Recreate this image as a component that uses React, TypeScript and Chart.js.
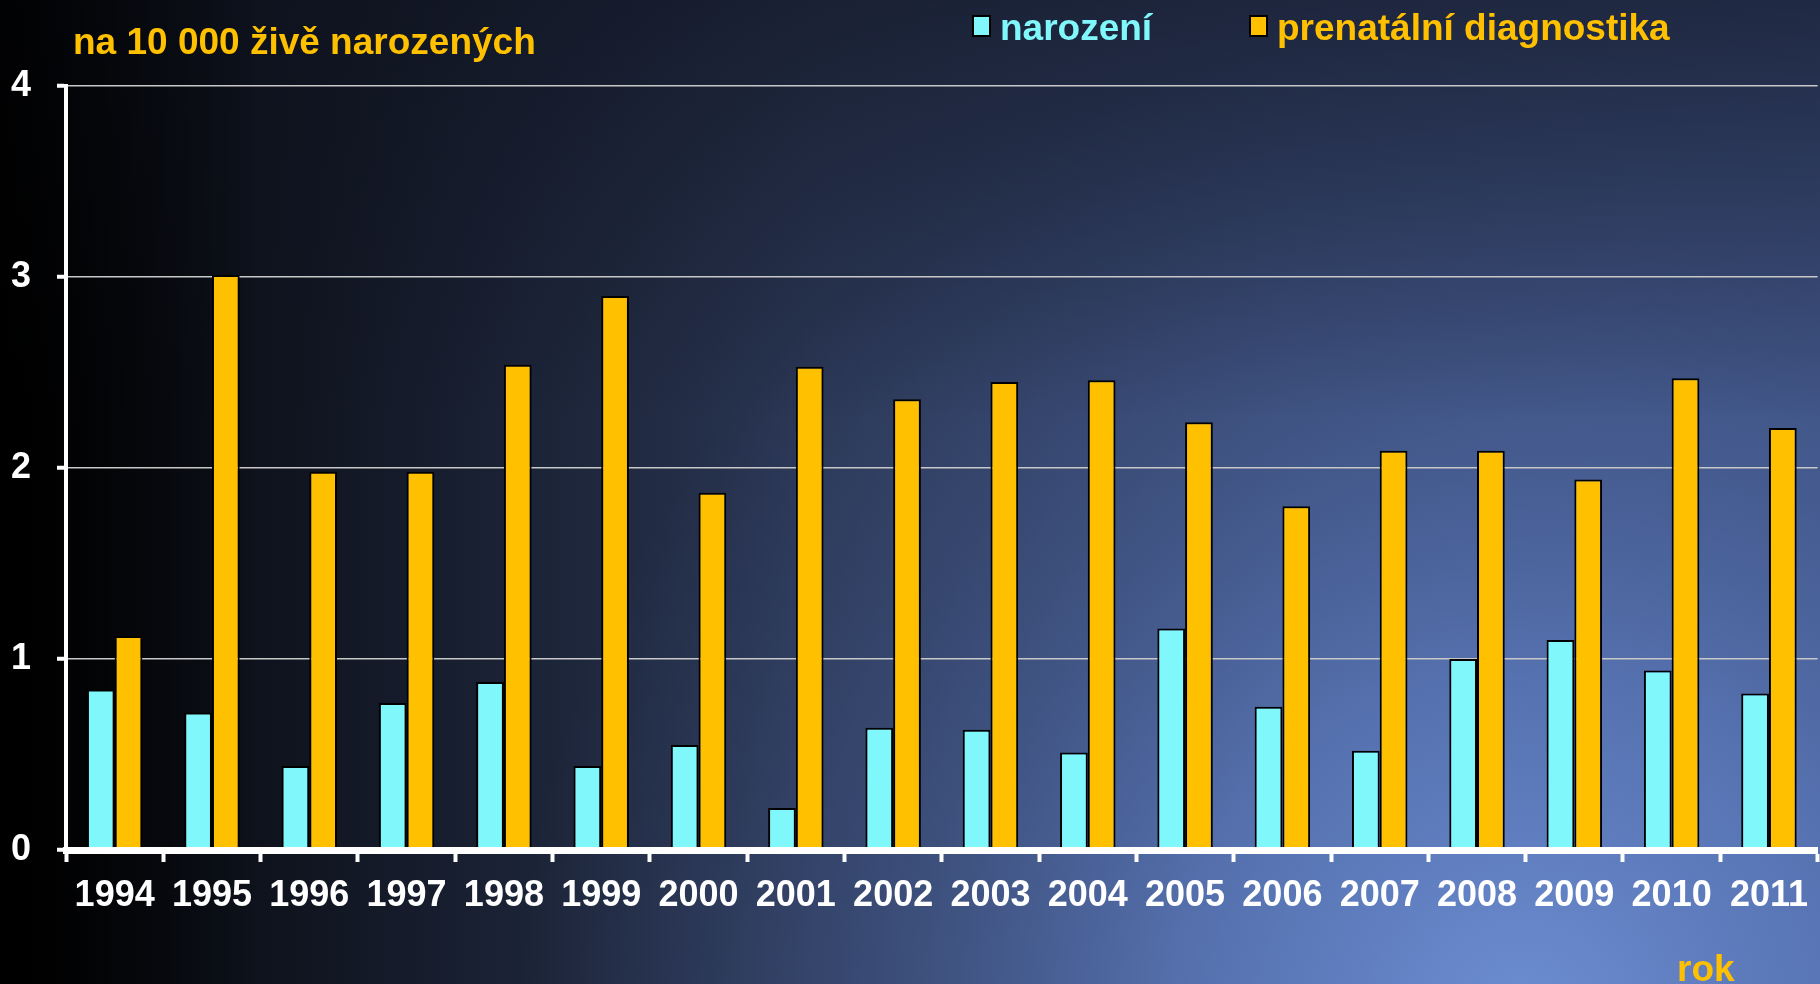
import { useEffect, useRef } from "react";
import { Chart, registerables } from "chart.js";

Chart.register(...registerables);

const years = ["1994", "1995", "1996", "1997", "1998", "1999", "2000", "2001", "2002", "2003", "2004", "2005", "2006", "2007", "2008", "2009", "2010", "2011"];
const narozeni = [0.84, 0.72, 0.44, 0.77, 0.88, 0.44, 0.55, 0.22, 0.64, 0.63, 0.51, 1.16, 0.75, 0.52, 1.0, 1.10, 0.94, 0.82];
const prenatalni = [1.12, 3.01, 1.98, 1.98, 2.54, 2.90, 1.87, 2.53, 2.36, 2.45, 2.46, 2.24, 1.80, 2.09, 2.09, 1.94, 2.47, 2.21];
const seriesLabels = ["narození", "prenatální diagnostika"];
const seriesColors = ["#80F7FB", "#FFC000"];
const yMin = 0;
const yMax = 4;
const yStep = 1;
const titleText = "na 10 000 živě narozených";
const xTitleText = "rok";

const FONT = '"Liberation Sans", Arial, sans-serif';

const decorPlugin = {
  id: "decor",
  beforeDraw(chart: any) {
    const ctx = chart.ctx as CanvasRenderingContext2D;
    const w = chart.width;
    const h = chart.height;
    ctx.save();
    const base = ctx.createLinearGradient(0, 0, w, 0);
    base.addColorStop(0, "#000000");
    base.addColorStop(0.06, "#07090e");
    base.addColorStop(0.22, "#151b2a");
    base.addColorStop(0.45, "#2a3654");
    base.addColorStop(0.7, "#34446c");
    base.addColorStop(1, "#3a4c7a");
    ctx.fillStyle = base;
    ctx.fillRect(0, 0, w, h);
    const rad = ctx.createRadialGradient(1520, 1020, 0, 1520, 1020, 1000);
    rad.addColorStop(0, "rgba(112,146,216,0.95)");
    rad.addColorStop(0.35, "rgba(98,130,200,0.7)");
    rad.addColorStop(0.7, "rgba(80,106,165,0.3)");
    rad.addColorStop(1, "rgba(70,90,140,0)");
    ctx.fillStyle = rad;
    ctx.fillRect(0, 0, w, h);
    const top = ctx.createLinearGradient(0, 0, 0, 420);
    top.addColorStop(0, "rgba(14,18,30,0.6)");
    top.addColorStop(1, "rgba(14,18,30,0)");
    ctx.fillStyle = top;
    ctx.fillRect(0, 0, w, h);
    const left = ctx.createLinearGradient(0, 0, 260, 0);
    left.addColorStop(0, "rgba(0,0,0,0.85)");
    left.addColorStop(1, "rgba(0,0,0,0)");
    ctx.fillStyle = left;
    ctx.fillRect(0, 0, w, h);
    ctx.restore();
  },
  afterDraw(chart: any) {
    const ctx = chart.ctx as CanvasRenderingContext2D;
    ctx.save();
    ctx.font = `bold 37px ${FONT}`;
    ctx.textBaseline = "alphabetic";
    ctx.textAlign = "left";
    ctx.fillStyle = "#FFC000";
    ctx.fillText(titleText, 73, 54);
    ctx.fillText(xTitleText, 1677, 981);
    const items = [
      { x: 973, text: chart.data.datasets[0].label, color: chart.data.datasets[0].backgroundColor },
      { x: 1250, text: chart.data.datasets[1].label, color: chart.data.datasets[1].backgroundColor },
    ];
    items.forEach((it) => {
      ctx.fillStyle = "#000";
      ctx.fillRect(it.x - 1, 15, 19, 22);
      ctx.fillStyle = it.color;
      ctx.fillRect(it.x + 1, 17, 15, 18);
      ctx.fillStyle = it.color;
      ctx.fillText(it.text, it.x + 27, 40);
    });
    ctx.restore();
  },
};

export default function App() {
  const ref = useRef<HTMLCanvasElement | null>(null);
  useEffect(() => {
    document.body.style.margin = "0";
    document.body.style.overflow = "hidden";
    const canvas = ref.current;
    if (!canvas) return;
    const tickFont = { family: FONT, size: 36, weight: "bold" as const };
    const chart = new Chart(canvas, {
      type: "bar",
      data: {
        labels: years,
        datasets: [
          {
            label: seriesLabels[0],
            data: narozeni,
            backgroundColor: seriesColors[0],
            borderColor: "#000",
            borderWidth: 2,
            categoryPercentage: 0.57,
            barPercentage: 1,
          },
          {
            label: seriesLabels[1],
            data: prenatalni,
            backgroundColor: seriesColors[1],
            borderColor: "#000",
            borderWidth: 2,
            categoryPercentage: 0.57,
            barPercentage: 1,
          },
        ],
      },
      options: {
        animation: false,
        responsive: false,
        devicePixelRatio: 1,
        layout: { padding: { top: 86, right: 0, left: 0, bottom: 0 } },
        plugins: {
          legend: { display: false },
          title: { display: false },
          tooltip: { enabled: false },
        },
        scales: {
          x: {
            offset: true,
            grid: {
              display: true,
              offset: true,
              drawOnChartArea: false,
              drawTicks: true,
              tickLength: 12,
              tickColor: "#ffffff",
              tickWidth: 4,
              color: "rgba(0,0,0,0)",
            },
            border: { display: true, color: "#ffffff", width: 7, z: 2 },
            ticks: {
              color: "#ffffff",
              font: tickFont,
              padding: 12,
              maxRotation: 0,
              autoSkip: false,
            },
            afterFit: (s: any) => {
              s.height = 134;
            },
          },
          y: {
            min: yMin,
            max: yMax,
            ticks: {
              stepSize: yStep,
              color: "#ffffff",
              font: tickFont,
              padding: 26,
            },
            grid: {
              color: "#c8c8c8",
              lineWidth: 1.5,
              tickColor: "#ffffff",
              tickWidth: 4,
              tickLength: 9,
            },
            border: { display: true, color: "#ffffff", width: 4 },
            afterFit: (s: any) => {
              s.width = 66;
            },
          },
        },
      },
      plugins: [decorPlugin],
    });
    return () => chart.destroy();
  }, []);
  return (
    <div style={{ position: "fixed", left: 0, top: 0, width: 1820, height: 984 }}>
      <canvas ref={ref} width={1820} height={984} />
    </div>
  );
}
